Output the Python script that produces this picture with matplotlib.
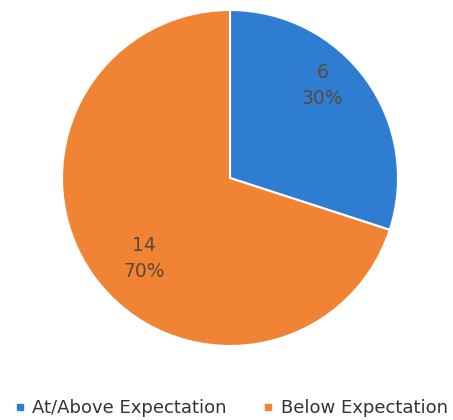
import matplotlib
matplotlib.use("Agg")
import matplotlib.pyplot as plt
from matplotlib.lines import Line2D

categories = ["At/Above Expectation", "Below Expectation"]
counts = [6, 14]
colors = ["#2E7DD1", "#F08434"]

fig = plt.figure(figsize=(4.53, 4.20), dpi=100)
cx, cy, r = 230 / 453, 1 - 178 / 420, 168
ax = fig.add_axes([cx - r / 453, cy - r / 420, 2 * r / 453, 2 * r / 420])

total = sum(counts)
labels_txt = [f"{c}\n{round(c / total * 100)}%" for c in counts]

wedges, _ = ax.pie(counts, colors=colors, startangle=90, counterclock=False,
                   wedgeprops=dict(edgecolor="white", linewidth=1.5))
ax.set_xlim(-1, 1)
ax.set_ylim(-1, 1)
ax.set_aspect("equal")

label_pos = [(0.55, 0.55), (-0.51, -0.48)]
for txt, (x, y) in zip(labels_txt, label_pos):
    ax.text(x, y, txt, ha="center", va="center", fontsize=13.5,
            color="#5a4a3a", linespacing=1.5, family="DejaVu Sans")

handles = [Line2D([0], [0], marker="s", linestyle="none", markersize=5,
                  markerfacecolor=c, markeredgecolor=c) for c in colors]
fig.legend(handles, categories, loc="center", bbox_to_anchor=(0.51, 1 - 408 / 420),
           ncol=2, frameon=False, fontsize=13, handlelength=0.6,
           handletextpad=0.4, columnspacing=2.0, labelcolor="#333333")

fig.savefig("out.png", dpi=100, facecolor="white")
